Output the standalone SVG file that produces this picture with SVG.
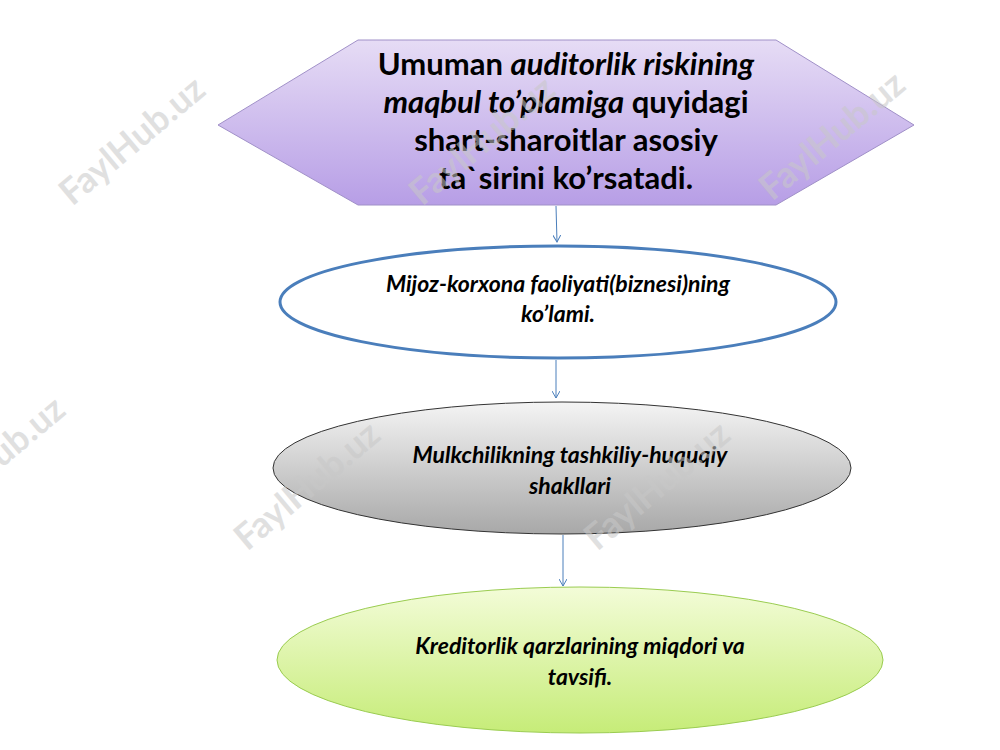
<svg xmlns="http://www.w3.org/2000/svg" width="1000" height="750" viewBox="0 0 1000 750">
<style>
.wm{font-family:Lato,"Open Sans",sans-serif;font-weight:bold;font-size:36px;fill:#c8c8c8;opacity:0.55;text-anchor:middle}
.h{font-family:Lato,"Open Sans",sans-serif;font-weight:bold;font-size:31px;fill:#000;text-anchor:middle}
.e{font-family:Lato,"Open Sans",sans-serif;font-weight:bold;font-style:italic;font-size:23px;fill:#000;text-anchor:middle}
.c{stroke:#4a7ebb;stroke-width:1;fill:none;marker-end:url(#ah)}
</style>
<defs>
<linearGradient id="gp" x1="0" y1="0" x2="0" y2="1"><stop offset="0" stop-color="#e6dcf5"/><stop offset="1" stop-color="#b79ee6"/></linearGradient>
<linearGradient id="gg" x1="0" y1="0" x2="0" y2="1"><stop offset="0" stop-color="#f4f4f4"/><stop offset="1" stop-color="#a8a8a8"/></linearGradient>
<linearGradient id="gn" x1="0" y1="0" x2="0" y2="1"><stop offset="0" stop-color="#f3fcd8"/><stop offset="1" stop-color="#c6ec78"/></linearGradient>
<marker id="ah" markerWidth="8" markerHeight="8" refX="7" refY="4" orient="auto" markerUnits="userSpaceOnUse"><path d="M0,0 L7,4 L0,8" fill="none" stroke="#4a7ebb"/></marker>
</defs>
<rect width="1000" height="750" fill="#fff"/>
<g id="connectors">
<line class="c" x1="556" y1="206" x2="557" y2="242"/>
<line class="c" x1="556" y1="360" x2="556" y2="398"/>
<line class="c" x1="563" y1="535" x2="563" y2="586"/>
</g>
<g id="n1">
<polygon points="218,125 358,40 776,40 914,125 776,205 358,205" fill="url(#gp)" stroke="#a090c8" stroke-width="1"/>
<text class="h" x="566" y="75">Umuman <tspan font-style="italic">auditorlik riskining</tspan></text>
<text class="h" x="566" y="113"><tspan font-style="italic">maqbul to’plamiga</tspan> quyidagi</text>
<text class="h" x="566" y="151">shart-sharoitlar asosiy</text>
<text class="h" x="566" y="189">ta`sirini ko’rsatadi.</text>
</g>
<g id="n2">
<ellipse cx="558" cy="302" rx="278" ry="56" fill="#fff" stroke="#4a7ebb" stroke-width="3"/>
<text class="e" x="558" y="292">Mijoz-korxona faoliyati(biznesi)ning</text>
<text class="e" x="558" y="322">ko’lami.</text>
</g>
<g id="n3">
<ellipse cx="562" cy="468" rx="289" ry="66" fill="url(#gg)" stroke="#333" stroke-width="1"/>
<text class="e" x="570" y="463">Mulkchilikning tashkiliy-huquqiy</text>
<text class="e" x="570" y="494">shakllari</text>
</g>
<g id="n4">
<ellipse cx="580" cy="660" rx="303" ry="73" fill="url(#gn)" stroke="#9acc50" stroke-width="1"/>
<text class="e" x="580" y="654">Kreditorlik qarzlarining miqdori va</text>
<text class="e" x="580" y="685">tavsifi.</text>
</g>
<g id="watermarks">
<text class="wm" transform="translate(140,150) rotate(-40)">FaylHub.uz</text>
<text class="wm" transform="translate(490,150) rotate(-40)">FaylHub.uz</text>
<text class="wm" transform="translate(840,145) rotate(-40)">FaylHub.uz</text>
<text class="wm" transform="translate(0,470) rotate(-40)">FaylHub.uz</text>
<text class="wm" transform="translate(315,495) rotate(-40)">FaylHub.uz</text>
<text class="wm" transform="translate(665,495) rotate(-40)">FaylHub.uz</text>
</g>
</svg>
